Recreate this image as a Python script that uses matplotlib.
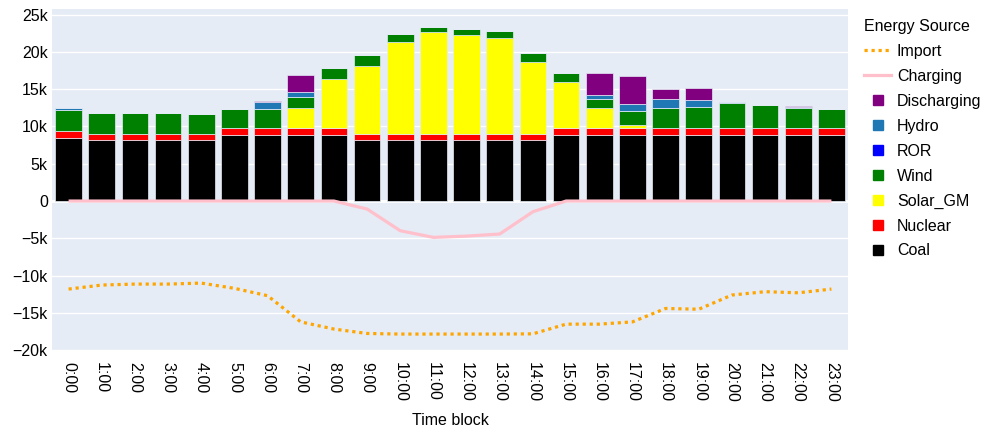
import matplotlib
matplotlib.use("Agg")
import matplotlib.pyplot as plt
from matplotlib.lines import Line2D
from matplotlib.ticker import FuncFormatter
import numpy as np

plt.rcParams['font.family'] = ['Liberation Sans', 'DejaVu Sans']

hours = [f"{h}:00" for h in range(24)]

coal = [8.49, 8.13, 8.13, 8.13, 8.13, 8.89, 8.89, 8.89, 8.89, 8.13, 8.13, 8.13,
        8.13, 8.13, 8.13, 8.89, 8.89, 8.89, 8.89, 8.89, 8.89, 8.89, 8.89, 8.89]
nuclear = [0.88, 0.85, 0.85, 0.85, 0.85, 0.85, 0.85, 0.85, 0.85, 0.85, 0.85, 0.85,
           0.85, 0.85, 0.85, 0.85, 0.85, 0.85, 0.85, 0.85, 0.85, 0.85, 0.85, 0.85]
solar_gm = [0, 0, 0, 0, 0, 0, 0.10, 2.76, 6.66, 9.16, 12.38, 13.62,
            13.32, 12.92, 9.72, 6.16, 2.68, 0.45, 0, 0, 0, 0, 0, 0]
wind = [2.82, 2.86, 2.77, 2.77, 2.62, 2.59, 2.49, 1.40, 1.40, 1.39, 1.03, 0.70,
        0.76, 0.90, 1.10, 1.26, 1.30, 1.87, 2.68, 2.90, 3.40, 3.13, 2.76, 2.55]
ror = [0] * 24
hydro = [0.25, 0, 0, 0, 0, 0, 0.90, 0.75, 0, 0, 0, 0,
         0, 0, 0, 0, 0.44, 0.90, 1.25, 0.86, 0.13, 0, 0.05, 0.10]
discharging = [0, 0, 0, 0, 0, 0, 0.17, 2.20, 0, 0, 0, 0,
               0, 0, 0, 0, 2.94, 3.80, 1.30, 1.60, 0, 0, 0.25, 0]
charging = [0, 0, 0, 0, 0, 0, 0, 0, 0, -1.07, -3.98, -4.87,
            -4.70, -4.42, -1.43, 0, 0, 0, 0, 0, 0, 0, 0, 0]
imports = [-11.8, -11.26, -11.13, -11.13, -11.0, -11.7, -12.69, -16.2, -17.16, -17.75, -17.83, -17.83,
           -17.83, -17.83, -17.8, -16.5, -16.5, -16.2, -14.4, -14.5, -12.6, -12.15, -12.3, -11.8]

bar_series = [
    ("Coal", coal, "black"),
    ("Nuclear", nuclear, "red"),
    ("Solar_GM", solar_gm, "yellow"),
    ("Wind", wind, "green"),
    ("ROR", ror, "blue"),
    ("Hydro", hydro, "#1f77b4"),
    ("Discharging", discharging, "purple"),
]

BG = "#E5ECF6"
fig = plt.figure(figsize=(9.86, 4.32), dpi=100)
ax = fig.add_axes([52 / 986, 81 / 432, 796 / 986, 342 / 432])
ax.set_facecolor(BG)

x = np.arange(len(hours))
bottom = np.zeros(len(hours))
for name, vals, color in bar_series:
    v = np.array(vals) * 1000
    ax.bar(x, v, width=0.8, bottom=bottom, color=color, edgecolor=BG,
           linewidth=0.5, zorder=3)
    bottom += v

ax.plot(x, np.array(charging) * 1000, color="pink", linewidth=2.3, zorder=4,
        solid_capstyle="butt")
ax.plot(x, np.array(imports) * 1000, color="orange", linewidth=2.3, zorder=4,
        linestyle=(0, (1.0, 1.2)), dash_capstyle="butt")

ax.set_xlim(-0.5, 23.5)
ax.set_ylim(-20100, 25740)
ax.set_yticks(np.arange(-20000, 25001, 5000))


def kfmt(v, _):
    if v == 0:
        return "0"
    s = f"{abs(v) / 1000:g}k"
    return ("\u2212" + s) if v < 0 else s


ax.yaxis.set_major_formatter(FuncFormatter(kfmt))
ax.set_xticks(x)
ax.set_xticklabels(hours, rotation=-90)
ax.tick_params(axis="both", length=0, labelsize=11.5, colors="black")
ax.tick_params(axis="x", pad=8)
ax.tick_params(axis="y", pad=3)
ax.grid(axis="y", color="white", linewidth=1.0, zorder=0)
ax.axhline(0, color="white", linewidth=2, zorder=1)
for s in ax.spines.values():
    s.set_visible(False)
ax.set_xlabel("Time block", fontsize=11.5, labelpad=8)

handles = [
    Line2D([], [], color="orange", linewidth=2.3, linestyle=(0, (1.0, 1.2))),
    Line2D([], [], color="pink", linewidth=2.3),
]
labels = ["Import", "Charging"]
for name, vals, color in reversed(bar_series):
    handles.append(Line2D([], [], linestyle="none", marker="s", markersize=7,
                          markerfacecolor=color, markeredgecolor=color))
    labels.append(name)

leg = fig.legend(handles, labels, title="Energy Source", loc="upper left",
                 bbox_to_anchor=(853 / 986, 1 - 8 / 432), frameon=False,
                 fontsize=11.5, title_fontsize=11.5, handlelength=1.7,
                 handletextpad=0.35, labelspacing=0.62, borderpad=0.2,
                 alignment="left")

fig.savefig("out.png", dpi=100, facecolor="white")
